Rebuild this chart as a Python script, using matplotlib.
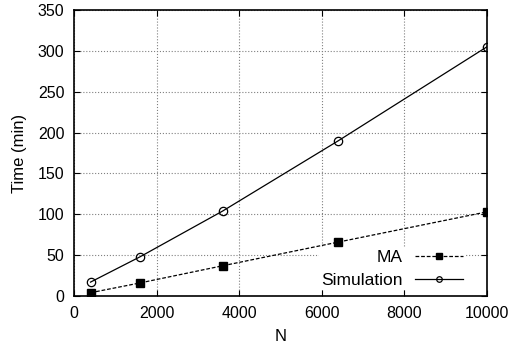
import matplotlib.pyplot as plt

plt.rcParams['font.family'] = ['Liberation Sans', 'DejaVu Sans']

N = [400, 1600, 3600, 6400, 10000]
t_ma = [4, 16, 37, 66, 103]
t_sim = [17, 48, 104, 190, 305]

fig = plt.figure(figsize=(5.11, 3.51), dpi=100)
ax = fig.add_axes([74/511, 55/351, 413/511, 286/351])

ax.plot(N, t_ma, "k--", lw=0.9, dashes=(3, 1.5), marker="s", ms=5.5, label="MA")
ax.plot(N, t_sim, "k-", lw=0.9, marker="o", ms=6, mfc="none", mew=0.9, label="Simulation")

ax.set_xlim(0, 10000)
ax.set_ylim(0, 350)
ax.set_xticks([0, 2000, 4000, 6000, 8000, 10000])
ax.set_yticks(range(0, 351, 50))
ax.grid(True, color="gray", ls=":", lw=0.8)
ax.tick_params(direction="in", top=True, right=True, labelsize=11.5, length=4, pad=7)
for s in ax.spines.values():
    s.set_linewidth(1.2)
ax.set_xlabel("N", fontsize=12, labelpad=6)
ax.set_ylabel("Time (min)", fontsize=12, labelpad=8)

leg = ax.legend(loc="lower right", markerfirst=False, frameon=True, fontsize=12.5,
                edgecolor="white", fancybox=False, framealpha=1, handlelength=2.8,
                handletextpad=0.7, borderpad=0.1, borderaxespad=0.35,
                labelspacing=0.45, bbox_to_anchor=(0.962, 0.0))
leg.get_frame().set_linewidth(0)
leg.legend_handles[0].set_markersize(5)
leg.legend_handles[1].set_markersize(4)

plt.savefig("out.png")
